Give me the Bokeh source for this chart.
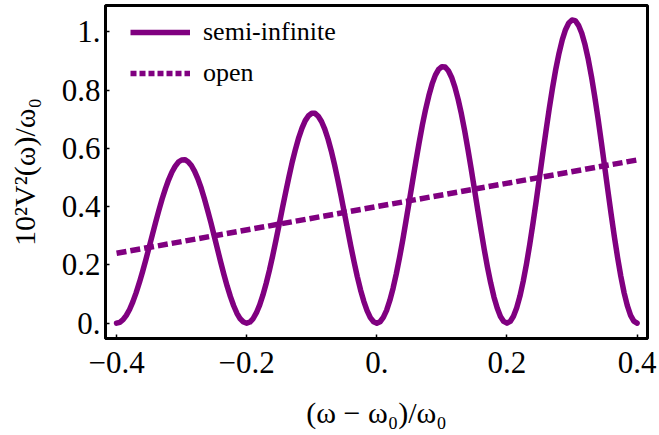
from bokeh.plotting import figure
from bokeh.models import FixedTicker, Legend, LegendItem, ColumnDataSource
from bokeh.embed import file_html
from bokeh.resources import INLINE

# x values (omega - omega0)/omega0, sampled every 0.005
x_semi = [round(-0.40 + 0.005 * k, 3) for k in range(161)]
# semi-infinite curve values
y_semi = [
    0.000, 0.003, 0.012, 0.027, 0.047, 0.073, 0.104, 0.139, 0.177, 0.218,
    0.260, 0.303, 0.346, 0.387, 0.426, 0.461, 0.492, 0.518, 0.538, 0.553,
    0.560, 0.561, 0.554, 0.541, 0.521, 0.495, 0.464, 0.427, 0.387, 0.345,
    0.300, 0.255, 0.210, 0.167, 0.127, 0.091, 0.060, 0.034, 0.015, 0.004,
    0.000, 0.004, 0.016, 0.036, 0.063, 0.097, 0.137, 0.182, 0.232, 0.285,
    0.340, 0.396, 0.450, 0.503, 0.553, 0.597, 0.637, 0.669, 0.695, 0.712,
    0.720, 0.720, 0.710, 0.692, 0.666, 0.632, 0.591, 0.544, 0.492, 0.437,
    0.380, 0.322, 0.265, 0.211, 0.160, 0.114, 0.075, 0.043, 0.019, 0.005,
    0.000, 0.005, 0.020, 0.044, 0.078, 0.120, 0.170, 0.226, 0.287, 0.353,
    0.420, 0.488, 0.555, 0.619, 0.680, 0.734, 0.781, 0.821, 0.851, 0.871,
    0.880, 0.879, 0.866, 0.843, 0.810, 0.768, 0.718, 0.660, 0.597, 0.530,
    0.460, 0.390, 0.321, 0.254, 0.193, 0.138, 0.090, 0.052, 0.023, 0.006,
    0.000, 0.006, 0.024, 0.053, 0.093, 0.144, 0.203, 0.270, 0.343, 0.420,
    0.500, 0.581, 0.660, 0.736, 0.807, 0.871, 0.926, 0.972, 1.007, 1.030,
    1.040, 1.038, 1.022, 0.995, 0.955, 0.905, 0.845, 0.776, 0.702, 0.622,
    0.540, 0.457, 0.376, 0.298, 0.226, 0.161, 0.105, 0.060, 0.027, 0.007,
    0.000,
]
# open curve (straight line)
x_open = [-0.40, 0.40]
y_open = [0.24, 0.56]

x_ticks = [-0.4, -0.2, 0.0, 0.2, 0.4]
x_tick_labels = ["\u22120.4", "\u22120.2", "0.", "0.2", "0.4"]
y_ticks = [0.0, 0.2, 0.4, 0.6, 0.8, 1.0]
y_tick_labels = ["0.", "0.2", "0.4", "0.6", "0.8", "1."]

series_names = ["semi-infinite", "open"]
color = "#800080"
font = "Liberation Serif"

p = figure(width=659, height=435, output_backend="svg", toolbar_location=None,
           x_range=(-0.417, 0.416), y_range=(-0.0525, 1.09),
           min_border_left=105, min_border_right=12, min_border_top=5,
           min_border_bottom=97)
p.background_fill_color = "white"
p.border_fill_color = "white"
p.outline_line_color = "black"
p.outline_line_width = 3
p.xgrid.visible = False
p.ygrid.visible = False

p.line(x_semi, y_semi, line_color=color, line_width=5.5, line_cap="round", line_join="round")
p.line(x_open, y_open, line_color=color, line_width=5.5, line_dash="10 4")

# legend proxies (no visible data)
nan = float("nan")
src_proxy = ColumnDataSource(data=dict(x=[nan, nan], y=[nan, nan]))
r1 = p.line("x", "y", source=src_proxy, line_color=color, line_width=5.5)
r2 = p.line("x", "y", source=src_proxy, line_color=color, line_width=5.5, line_dash="6 3")
legend = Legend(items=[LegendItem(label=series_names[0], renderers=[r1]),
                       LegendItem(label=series_names[1], renderers=[r2])],
                location=(25, 250), margin=0, padding=0, spacing=11,
                glyph_width=60, glyph_height=30, label_standoff=13,
                label_text_font=font, label_text_font_size="26px",
                label_text_color="black", background_fill_alpha=0,
                border_line_alpha=0)
p.add_layout(legend)

for ax in (p.xaxis[0], p.yaxis[0]):
    ax.axis_line_width = 3
    ax.axis_line_color = "black"
    ax.major_tick_in = 4
    ax.major_tick_out = 0
    ax.major_tick_line_width = 1.5
    ax.minor_tick_line_color = None
    ax.major_label_text_font = font
    ax.major_label_text_font_size = "31px"
    ax.major_label_text_color = "black"
    ax.major_label_text_line_height = 1.0
    ax.axis_label_text_font = font
    ax.axis_label_text_font_size = "30px"
    ax.axis_label_text_font_style = "normal"
    ax.axis_label_text_color = "black"
    ax.axis_label_text_line_height = 1.0

p.xaxis.ticker = FixedTicker(ticks=x_ticks)
p.xaxis.major_label_overrides = dict(zip(x_ticks, x_tick_labels))
p.yaxis.ticker = FixedTicker(ticks=y_ticks)
p.yaxis.major_label_overrides = dict(zip(y_ticks, y_tick_labels))
p.xaxis.major_label_standoff = 13
p.yaxis.major_label_standoff = 5
p.xaxis.axis_label = "(\u03c9 \u2212 \u03c9\u2080)/\u03c9\u2080"
p.yaxis.axis_label = "10\u00b2V\u00b2(\u03c9)/\u03c9\u2080"
p.xaxis.axis_label_standoff = 20
p.yaxis.axis_label_standoff = 18

open("out.html", "w").write(file_html(p, INLINE))
